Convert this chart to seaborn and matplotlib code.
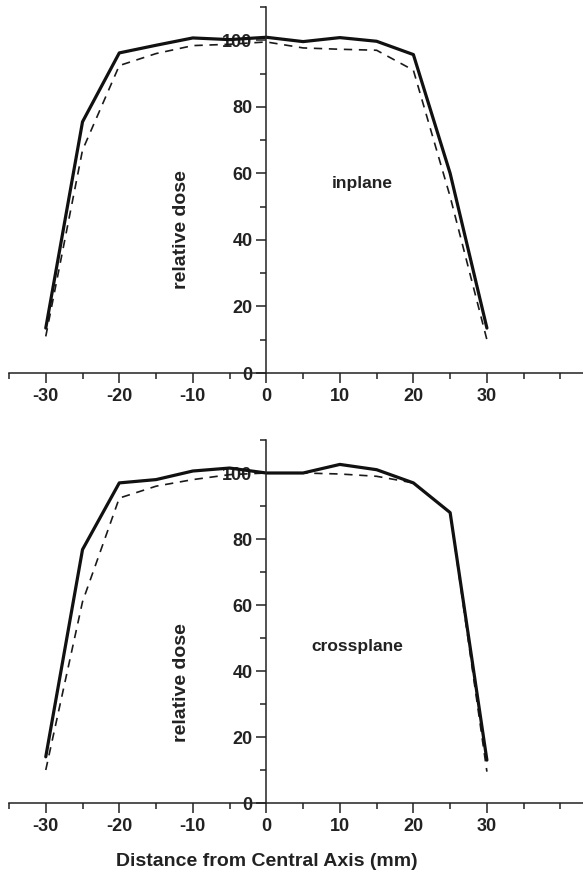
import numpy as np
import pandas as pd
import matplotlib
matplotlib.use("Agg")
import matplotlib.pyplot as plt
from matplotlib.ticker import MultipleLocator
import seaborn as sns

# ---- data ----
distance = [-30, -25, -20, -15, -10, -5, 0, 5, 10, 15, 20, 25, 30]
inplane_solid = [13.5, 75.5, 96.2, 98.5, 100.7, 100.2, 100.9, 99.6, 100.8, 99.7, 95.7, 60.0, 13.5]
inplane_dashed = [11.0, 67.0, 92.4, 96.0, 98.4, 98.8, 99.5, 97.7, 97.3, 97.0, 91.0, 53.0, 10.0]
cross_solid = [14.0, 76.8, 97.0, 98.0, 100.6, 101.5, 100.0, 100.0, 102.6, 101.0, 97.0, 88.0, 13.0]
cross_dashed = [10.0, 61.0, 92.4, 96.0, 98.0, 99.5, 100.0, 100.0, 99.7, 99.0, 97.0, 88.0, 9.5]
x_ticks = [-30, -20, -10, 0, 10, 20, 30]
y_ticks = [0, 20, 40, 60, 80, 100]
panel_labels = ["inplane", "crossplane"]

sns.set_style("ticks")
plt.rcParams['font.family'] = ['Liberation Sans', 'DejaVu Sans']
plt.rcParams['font.weight'] = 'bold'
plt.rcParams['axes.unicode_minus'] = False

fig = plt.figure(figsize=(5.83, 8.75), dpi=100)
W, H = 583.0, 875.0
ax_top = fig.add_axes([9 / W, 1 - 373 / H, 574 / W, 366 / H])
ax_bot = fig.add_axes([9 / W, 1 - 803 / H, 574 / W, 363 / H])

panels = [
    (ax_top, inplane_solid, inplane_dashed, panel_labels[0], (13.0, 57.0), 43.0),
    (ax_bot, cross_solid, cross_dashed, panel_labels[1], (12.4, 47.4), 36.4),
]

for ax, solid, dashed, lab, lab_pos, ylab_y in panels:
    df_d = pd.DataFrame({"x": distance, "y": dashed})
    df_s = pd.DataFrame({"x": distance, "y": solid})
    sns.lineplot(data=df_d, x="x", y="y", ax=ax, color="#1a1a1a", lw=1.2,
                 linestyle=(0, (5, 4)), sort=False)
    sns.lineplot(data=df_s, x="x", y="y", ax=ax, color="#111111", lw=2.3,
                 sort=False)
    ax.set_xlim(-35, 43.07)
    ax.set_ylim(0, 110)
    ax.spines['left'].set_position(('data', 0))
    ax.spines['bottom'].set_position(('data', 0))
    ax.spines['right'].set_visible(False)
    ax.spines['top'].set_visible(False)
    for s in ('left', 'bottom'):
        ax.spines[s].set_linewidth(1.1)
        ax.spines[s].set_color('#222222')
    ax.set_xticks(x_ticks)
    ax.set_yticks(y_ticks)
    ax.xaxis.set_minor_locator(MultipleLocator(5))
    ax.yaxis.set_minor_locator(MultipleLocator(10))
    ax.tick_params(axis='both', which='major', direction='out', length=7,
                   width=1.1, color='#222222', labelsize=13, pad=3)
    ax.tick_params(axis='both', which='minor', direction='out', length=4,
                   width=1.1, color='#222222')
    ax.tick_params(axis='x', which='major', pad=4)
    for t in ax.get_xticklabels() + ax.get_yticklabels():
        t.set_fontweight('bold')
        t.set_color('#222222')
    ax.set_xlabel("")
    ax.set_ylabel("")
    ax.text(-11.6, ylab_y, "relative dose", rotation=90, ha='center', va='center',
            fontsize=14, fontweight='bold', color='#222222')
    ax.text(lab_pos[0], lab_pos[1], lab, ha='center', va='center',
            fontsize=12.5, fontweight='bold', color='#222222')
    ax.set_facecolor('white')
    ax.grid(False)

fig.text(266.5 / W, 1 - 861 / H, "Distance from Central Axis (mm)", ha='center',
         va='center', fontsize=14, fontweight='bold', color='#222222')
fig.patch.set_facecolor('white')
fig.savefig("out.png", dpi=100, facecolor='white')
